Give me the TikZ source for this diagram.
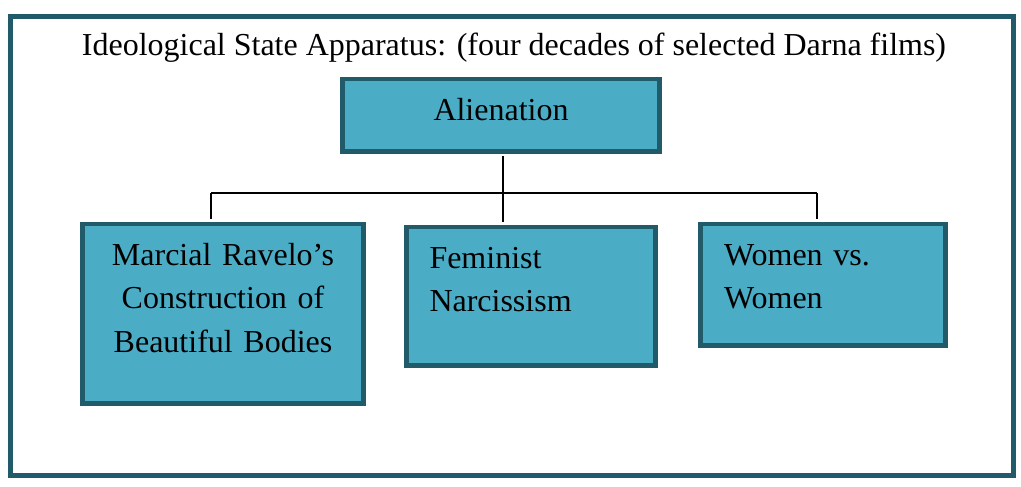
\documentclass[tikz,border=0pt]{standalone}
\usepackage{fontspec}
\setmainfont{Liberation Serif}
\usepackage{tikz}
\usetikzlibrary{positioning, calc}
\definecolor{boxfill}{HTML}{4BACC6}
\definecolor{boxline}{HTML}{215A69}

\begin{document}
\begin{tikzpicture}[
    font=\fontsize{18.2}{24.7}\selectfont,
    boxnode/.style={draw=boxline, fill=boxfill, line width=2.8pt, inner sep=0pt, text height=0.83cm, anchor=base},
    link/.style={line width=0.65pt, black}
  ]
    \useasboundingbox (0,0) rectangle (20.42,9.74);
    \draw[boxline, line width=2.8pt] (0.21,0.23) rectangle (20.27,9.41);

    \node[anchor=base] (title) at (10.28,8.63) {Ideological State Apparatus: (four decades of selected Darna films)};

    \node[boxnode, text width=6.33cm, align=center, text depth=0.62cm] (alien) at (10.02,7.33) {Alienation};

    \node[boxnode, text width=5.62cm, align=center, text depth=2.76cm] (marcial) at (4.46,4.43) {Marcial Ravelo’s\\ Construction of\\ Beautiful Bodies};
    \node[boxnode, inner xsep=0.46cm, text width=4.06cm, align=left, text depth=1.94cm] (feminist) at (10.62,4.37) {Feminist\\ Narcissism};
    \node[boxnode, inner xsep=0.47cm, text width=3.96cm, align=left, text depth=1.6cm] (women) at (16.46,4.43) {Women vs.\\ Women};

    % connectors
    \coordinate (bus) at (10.06,5.88);
    \coordinate (busL) at (4.22,5.88);
    \coordinate (busR) at (16.34,5.88);
    \draw[link, shorten <=1.4pt] (alien.south -| bus) -- (bus);
    \draw[link] (busL) -- (busR);
    \draw[link, shorten >=1.4pt] (busL) -- (busL |- marcial.north);
    \draw[link, shorten >=1.4pt] (bus) -- (bus |- feminist.north);
    \draw[link, shorten >=1.4pt] (busR) -- (busR |- women.north);
\end{tikzpicture}
\end{document}
